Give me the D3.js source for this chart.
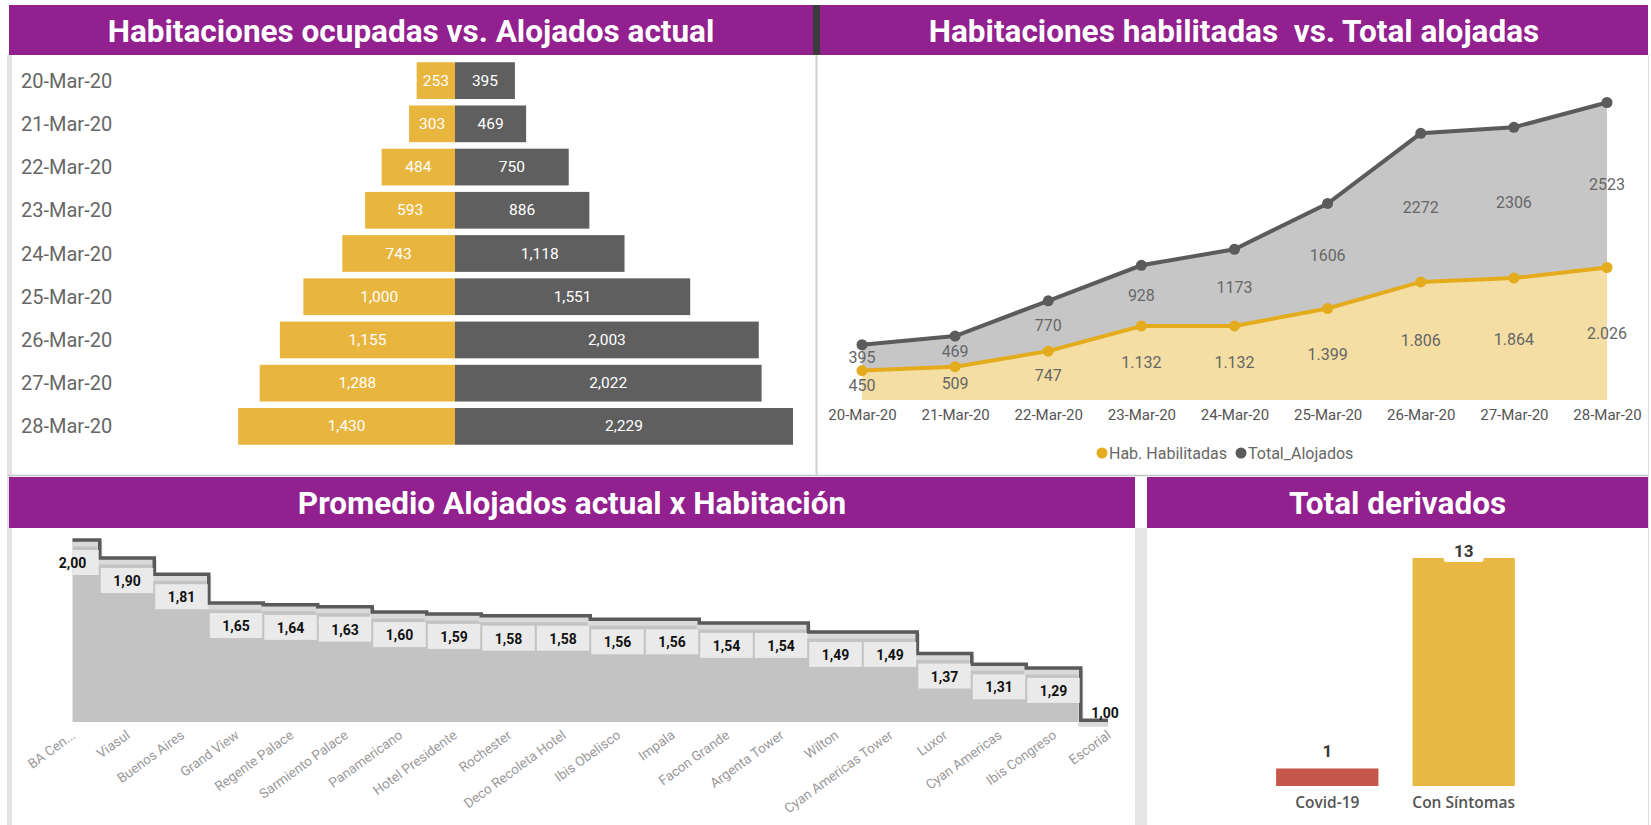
<!DOCTYPE html>
<html lang="es">
<head>
<meta charset="UTF-8" />
<title>Alojados por hotel</title>
<script src="https://d3js.org/d3.v7.min.js"></script>
<style>
  body { margin: 0; background: #fff; }
  svg { display: block; font-family: Roboto, "Open Sans", sans-serif; }
</style>
</head>
<body>
<svg width="1651" height="825"></svg>
<script>
// --- data ---
const fechas = ["20-Mar-20", "21-Mar-20", "22-Mar-20", "23-Mar-20", "24-Mar-20",
  "25-Mar-20", "26-Mar-20", "27-Mar-20", "28-Mar-20"];
const habOcupadas = [253, 303, 484, 593, 743, 1000, 1155, 1288, 1430];
const alojadosActual = [395, 469, 750, 886, 1118, 1551, 2003, 2022, 2229];

const habHabilitadas = [450, 509, 747, 1132, 1132, 1399, 1806, 1864, 2026];
const totalAlojados = [395, 469, 770, 928, 1173, 1606, 2272, 2306, 2523];

const hoteles = ["BA Cen...", "Viasul", "Buenos Aires", "Grand View", "Regente Palace",
  "Sarmiento Palace", "Panamericano", "Hotel Presidente", "Rochester", "Deco Recoleta Hotel",
  "Ibis Obelisco", "Impala", "Facon Grande", "Argenta Tower", "Wilton",
  "Cyan Americas Tower", "Luxor", "Cyan Americas", "Ibis Congreso", "Escorial"];
const promedio = [2.00, 1.90, 1.81, 1.65, 1.64, 1.63, 1.60, 1.59, 1.58, 1.58,
  1.56, 1.56, 1.54, 1.54, 1.49, 1.49, 1.37, 1.31, 1.29, 1.00];

const derivCategorias = ["Covid-19", "Con Síntomas"];
const derivados = [1, 13];

const purple = "#92208e";
const svg = d3.select("svg");

// --- frames ---
svg.append("rect").attr("x", 7).attr("y", 55).attr("width", 5).attr("height", 770).attr("fill", "#e3e3e3");
svg.append("rect").attr("x", 1135).attr("y", 528).attr("width", 12).attr("height", 297).attr("fill", "#e6e6e6");
svg.append("line").attr("x1", 816.5).attr("x2", 816.5).attr("y1", 55).attr("y2", 475)
  .attr("stroke", "#cfcfcf").attr("stroke-width", 2);
svg.append("line").attr("x1", 8).attr("x2", 1648).attr("y1", 475.5).attr("y2", 475.5)
  .attr("stroke", "#c4c4c4").attr("stroke-width", 1.5);
svg.append("line").attr("x1", 1648.5).attr("x2", 1648.5).attr("y1", 55).attr("y2", 825)
  .attr("stroke", "#dddddd");

const headers = [
  { x: 9, y: 5, w: 804, h: 50, t: "Habitaciones ocupadas vs. Alojados actual" },
  { x: 820, y: 5, w: 828, h: 50, t: "Habitaciones habilitadas  vs. Total alojadas" },
  { x: 9, y: 477, w: 1126, h: 51, t: "Promedio Alojados actual x Habitación" },
  { x: 1147, y: 477, w: 501, h: 51, t: "Total derivados" }
];
headers.forEach((h) => {
  svg.append("rect").attr("x", h.x).attr("y", h.y).attr("width", h.w).attr("height", h.h).attr("fill", purple);
  svg.append("text")
    .attr("x", h.x + h.w / 2).attr("y", h.y + h.h / 2 + 1)
    .attr("text-anchor", "middle").attr("dominant-baseline", "central")
    .attr("fill", "#fff").attr("font-size", 31.5).attr("font-weight", 700)
    .style("white-space", "pre")
    .text(h.t);
});
svg.append("rect").attr("x", 813).attr("y", 5).attr("width", 7).attr("height", 50).attr("fill", "#3b3b3b");

// --- panel 1: piramide ---
const y1 = d3.scaleBand().domain(fechas).range([59, 448]).paddingInner(0.15).paddingOuter(0.075);
const x1 = d3.scaleLinear().domain([0, d3.max(alojadosActual)]).range([0, 338]);
const cx1 = 455;
const fmtComa = d3.format(",");
const p1 = svg.append("g");

p1.selectAll(".fecha").data(fechas).join("text")
  .attr("x", 21).attr("y", (d) => y1(d) + y1.bandwidth() / 2)
  .attr("dominant-baseline", "central").attr("fill", "#666").attr("font-size", 20)
  .text((d) => d);

p1.selectAll(".ocup").data(habOcupadas).join("rect")
  .attr("x", (d) => cx1 - x1(d)).attr("y", (d, i) => y1(fechas[i]))
  .attr("width", (d) => x1(d)).attr("height", y1.bandwidth()).attr("fill", "#e8b53e");
p1.selectAll(".aloj").data(alojadosActual).join("rect")
  .attr("x", cx1).attr("y", (d, i) => y1(fechas[i]))
  .attr("width", (d) => x1(d)).attr("height", y1.bandwidth()).attr("fill", "#5f5f5f");

p1.selectAll(".lblOcup").data(habOcupadas).join("text")
  .attr("x", (d) => cx1 - x1(d) / 2).attr("y", (d, i) => y1(fechas[i]) + y1.bandwidth() / 2)
  .attr("text-anchor", "middle").attr("dominant-baseline", "central")
  .attr("fill", "#fff").attr("font-size", 15.5).text((d) => fmtComa(d));
p1.selectAll(".lblAloj").data(alojadosActual).join("text")
  .attr("x", (d) => cx1 + x1(d) / 2).attr("y", (d, i) => y1(fechas[i]) + y1.bandwidth() / 2)
  .attr("text-anchor", "middle").attr("dominant-baseline", "central")
  .attr("fill", "#fff").attr("font-size", 15.5).text((d) => fmtComa(d));

// --- panel 2: area apilada ---
const x2 = d3.scalePoint().domain(fechas).range([862, 1607]);
const y2 = d3.scaleLinear().domain([0, 5000]).range([400, 73]);
const filas2 = fechas.map((f, i) => ({ fecha: f, hab: habHabilitadas[i], total: totalAlojados[i] }));
const series = d3.stack().keys(["hab", "total"])(filas2);
const estilos = {
  hab: { area: "#f4dea3", line: "#e4ac1d", fmt: d3.formatLocale({ decimal: ",", thousands: ".", grouping: [3], currency: ["", ""] }).format(",") },
  total: { area: "#c6c6c6", line: "#5b5b5b", fmt: d3.format("d") }
};
const p2 = svg.append("g");
const area2 = d3.area().x((d) => x2(d.data.fecha)).y0((d) => y2(d[0])).y1((d) => y2(d[1]));
const line2 = d3.line().x((d) => x2(d.data.fecha)).y((d) => y2(d[1]));

p2.selectAll(".area").data(series).join("path")
  .attr("d", area2).attr("fill", (s) => estilos[s.key].area);
p2.selectAll(".linea").data(series).join("path")
  .attr("d", line2).attr("fill", "none")
  .attr("stroke", (s) => estilos[s.key].line).attr("stroke-width", 4);
series.forEach((s) => {
  p2.append("g").selectAll("circle").data(s).join("circle")
    .attr("cx", (d) => x2(d.data.fecha)).attr("cy", (d) => y2(d[1])).attr("r", 5.5)
    .attr("fill", estilos[s.key].line);
  p2.append("g").selectAll("text").data(s).join("text")
    .attr("x", (d) => x2(d.data.fecha)).attr("y", (d) => y2((d[0] + d[1]) / 2))
    .attr("text-anchor", "middle").attr("dominant-baseline", "central")
    .attr("fill", "#666").attr("font-size", 16)
    .text((d) => estilos[s.key].fmt(d.data[s.key]));
});

const eje2 = p2.append("g").attr("transform", "translate(0,406)")
  .call(d3.axisBottom(x2).tickSize(0).tickPadding(3));
eje2.select(".domain").remove();
eje2.selectAll("text").attr("fill", "#555").attr("font-size", 15).attr("font-family", "Roboto, sans-serif");

const leyenda = [
  { t: "Hab. Habilitadas", c: estilos.hab.line, x: 1102 },
  { t: "Total_Alojados", c: estilos.total.line, x: 1241 }
];
leyenda.forEach((l) => {
  p2.append("circle").attr("cx", l.x).attr("cy", 453).attr("r", 5.5).attr("fill", l.c);
  p2.append("text").attr("x", l.x + 7).attr("y", 453).attr("dominant-baseline", "central")
    .attr("fill", "#666").attr("font-size", 16).text(l.t);
});

// --- panel 3: escalones ---
const x3 = d3.scalePoint().domain(hoteles).range([72.5, 1108]);
const y3 = d3.scaleLinear().domain([0.99, 2.0]).range([722, 540]);
const paso = x3.step();
const fmtDec = d3.formatLocale({ decimal: ",", thousands: ".", grouping: [3], currency: ["", ""] }).format(".2f");
const p3 = svg.append("g");
p3.append("clipPath").attr("id", "clip3").append("rect")
  .attr("x", 72.5).attr("y", 530).attr("width", 1108 - 72.5).attr("height", 200);

const escalon = d3.line().curve(d3.curveStep).x((d, i) => x3(hoteles[i])).y((d) => y3(d));
p3.append("path").datum(promedio)
  .attr("d", d3.area().curve(d3.curveStep).x((d, i) => x3(hoteles[i])).y0(y3(0.99)).y1((d) => y3(d)))
  .attr("fill", "#c3c3c3");
p3.append("path").datum(promedio).attr("d", escalon)
  .attr("fill", "none").attr("stroke", "#d9d9d9").attr("stroke-width", 5)
  .attr("transform", "translate(0,4)");
p3.append("path").datum(promedio).attr("d", escalon)
  .attr("fill", "none").attr("stroke", "#5a5a5a").attr("stroke-width", 3.5);

const filas3 = hoteles.map((h, i) => ({ hotel: h, v: promedio[i] }));
const dentro = (d) => y3(d.v) + 36 <= y3(0.99);
p3.append("g").attr("clip-path", "url(#clip3)")
  .selectAll("rect").data(filas3.filter(dentro)).join("rect")
  .attr("x", (d) => x3(d.hotel) - paso / 2 + 1)
  .attr("y", (d) => y3(d.v) + 10).attr("width", paso - 2).attr("height", 25)
  .attr("fill", "#ededed").attr("opacity", 0.93);
p3.selectAll(".lbl3").data(filas3).join("text")
  .attr("x", (d) => x3(d.hotel) + (dentro(d) ? 0 : -3))
  .attr("y", (d) => (dentro(d) ? y3(d.v) + 23 : y3(d.v) - 7))
  .attr("text-anchor", "middle").attr("dominant-baseline", "central")
  .attr("fill", "#111").attr("font-size", 14).attr("font-weight", 700)
  .text((d) => fmtDec(d.v));

p3.selectAll(".hotel").data(hoteles).join("text")
  .attr("transform", (d) => `translate(${x3(d) + 1},733) rotate(-36)`)
  .attr("text-anchor", "end").attr("dominant-baseline", "central")
  .attr("fill", "#999").attr("font-size", 13.5).text((d) => d);

// --- panel 4: barras ---
const x4 = d3.scaleBand().domain(derivCategorias).range([1242, 1549]).paddingInner(0.25).paddingOuter(0.25);
const y4 = d3.scaleLinear().domain([0, 13]).range([786, 558]);
const colores4 = ["#c5584a", "#e8b842"];
const p4 = svg.append("g");
p4.selectAll("rect.bar").data(derivados).join("rect")
  .attr("x", (d, i) => x4(derivCategorias[i])).attr("y", (d) => y4(d))
  .attr("width", x4.bandwidth()).attr("height", (d) => y4(0) - y4(d))
  .attr("fill", (d, i) => colores4[i]);
const base4 = (d) => Math.max(y4(d) - 11, 557);
p4.selectAll("rect.fondo").data(derivados).join("rect")
  .attr("x", (d, i) => x4(derivCategorias[i]) + x4.bandwidth() / 2 - 20)
  .attr("y", (d) => base4(d) - 16).attr("width", 40).attr("height", 21)
  .attr("rx", 3).attr("fill", "#fff");
p4.selectAll("text.val").data(derivados).join("text")
  .attr("x", (d, i) => x4(derivCategorias[i]) + x4.bandwidth() / 2)
  .attr("y", (d) => base4(d))
  .attr("text-anchor", "middle").attr("fill", "#3a3a3a")
  .attr("font-size", 17).attr("font-weight", 700).text((d) => d);
p4.selectAll("text.cat").data(derivCategorias).join("text")
  .attr("x", (d) => x4(d) + x4.bandwidth() / 2).attr("y", 802)
  .attr("text-anchor", "middle").attr("dominant-baseline", "central")
  .attr("fill", "#555").attr("font-size", 15.5).attr("font-weight", 600)
  .attr("font-family", "'Open Sans', sans-serif").text((d) => d);
</script>
</body>
</html>
